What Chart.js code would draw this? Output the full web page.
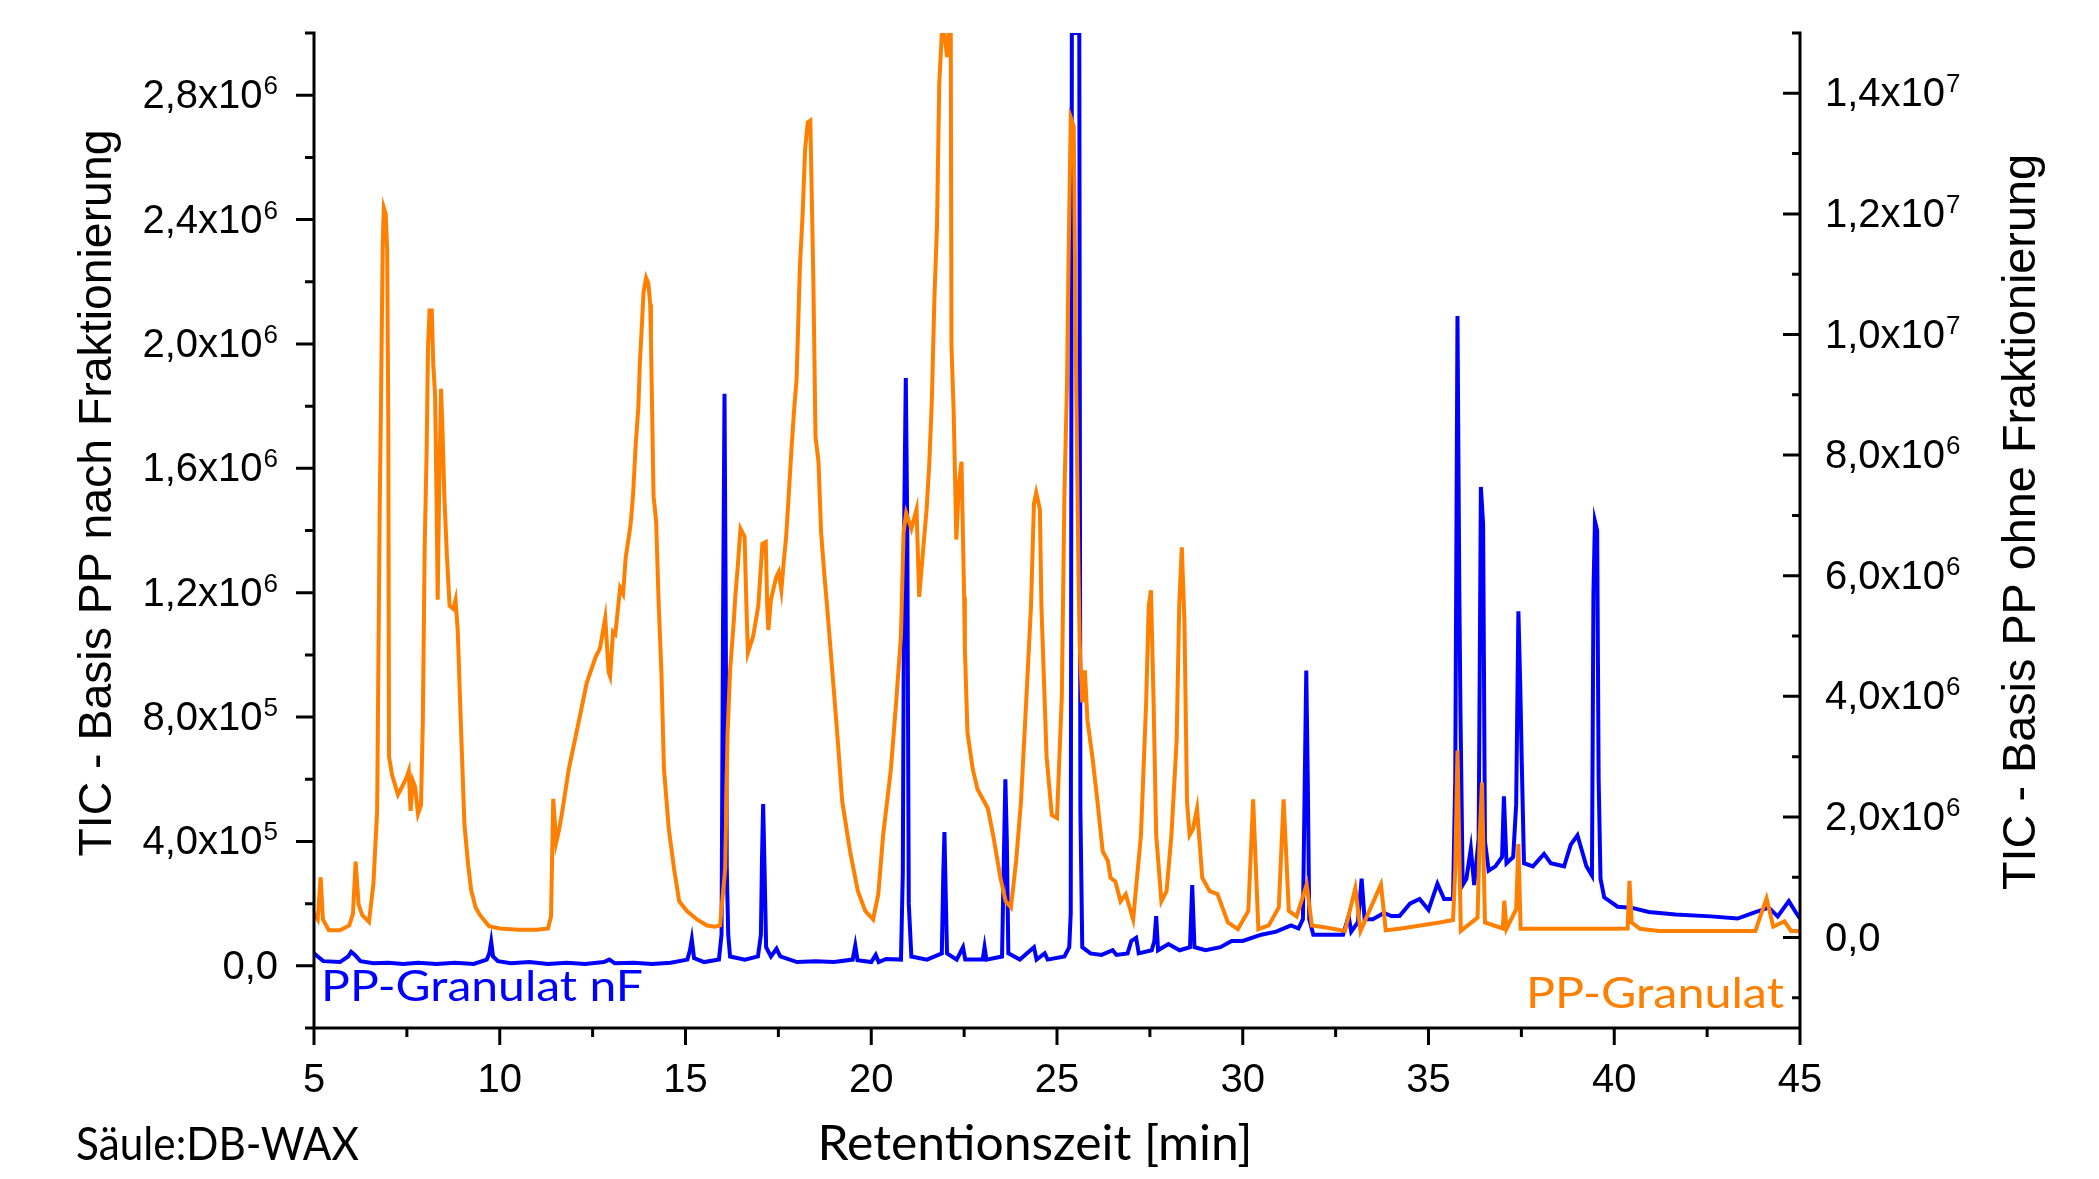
<!DOCTYPE html>
<html><head><meta charset="utf-8">
<script src="https://cdn.jsdelivr.net/npm/chart.js@4.4.0/dist/chart.umd.min.js"></script>
<style>html,body{margin:0;padding:0;background:#fff;overflow:hidden}canvas{display:block}</style>
</head><body>
<canvas id="c" width="2099" height="1179"></canvas>
<script>
// ---------------- DATA ----------------
// PP-Granulat (ohne Fraktionierung) – right axis: [Retentionszeit min, TIC]
const orangeTIC = [
[5.00,0.40e6],[5.10,0.30e6],[5.18,1.00e6],[5.24,0.30e6],[5.40,0.12e6],[5.70,0.12e6],[5.95,0.20e6],[6.05,0.40e6],
[6.12,1.26e6],[6.20,0.55e6],[6.30,0.37e6],[6.48,0.26e6],[6.60,0.90e6],[6.70,2.1e6],[6.77,7.2e6],[6.80,8.7e6],
[6.85,11.5e6],[6.88,12.1e6],[6.93,12.0e6],[6.97,11.4e6],[7.00,8.5e6],[7.02,3.0e6],[7.10,2.7e6],[7.26,2.37e6],
[7.37,2.5e6],[7.49,2.65e6],[7.55,2.76e6],[7.60,2.1e6],[7.66,2.6e6],[7.72,2.5e6],[7.80,2.05e6],[7.88,2.2e6],
[7.93,3.6e6],[7.98,6.5e6],[8.03,8.0e6],[8.07,9.8e6],[8.11,10.4e6],[8.17,10.4e6],[8.21,9.5e6],[8.26,9.0e6],
[8.30,7.2e6],[8.33,5.6e6],[8.37,7.5e6],[8.42,9.1e6],[8.46,8.4e6],[8.51,7.3e6],[8.58,6.3e6],[8.65,5.5e6],
[8.75,5.45e6],[8.81,5.6e6],[8.87,5.08e6],[8.95,3.6e6],[9.05,1.87e6],[9.15,1.2e6],[9.23,0.79e6],[9.35,0.5e6],
[9.47,0.37e6],[9.71,0.19e6],[10.0,0.15e6],[10.5,0.13e6],[11.0,0.13e6],[11.3,0.15e6],[11.38,0.35e6],[11.44,2.3e6],
[11.52,1.58e6],[11.60,1.8e6],[11.68,2.08e6],[11.86,2.8e6],[12.10,3.5e6],[12.34,4.22e6],[12.58,4.65e6],[12.70,4.8e6],
[12.84,5.3e6],[12.93,4.4e6],[12.97,4.33e6],[13.05,5.07e6],[13.11,5.03e6],[13.24,5.8e6],[13.32,5.7e6],[13.39,6.3e6],
[13.52,6.84e6],[13.59,7.35e6],[13.66,8.18e6],[13.73,8.78e6],[13.77,9.5e6],[13.83,10.2e6],[13.87,10.7e6],[13.94,10.94e6],
[14.00,10.85e6],[14.05,10.5e6],[14.07,9.92e6],[14.14,7.32e6],[14.21,6.9e6],[14.28,5.5e6],[14.35,4.43e6],[14.42,2.8e6],
[14.55,1.8e6],[14.69,1.15e6],[14.83,0.6e6],[15.04,0.44e6],[15.31,0.3e6],[15.58,0.2e6],[15.79,0.18e6],[15.93,0.2e6],
[16.07,1.15e6],[16.13,3.34e6],[16.20,4.43e6],[16.30,5.25e6],[16.34,5.65e6],[16.41,6.18e6],[16.48,6.78e6],[16.59,6.65e6],
[16.64,5.5e6],[16.68,4.72e6],[16.82,4.99e6],[16.96,5.5e6],[17.07,6.53e6],[17.16,6.56e6],[17.20,5.5e6],[17.23,5.1e6],
[17.30,5.6e6],[17.44,5.97e6],[17.51,6.06e6],[17.58,5.76e6],[17.65,6.27e6],[17.71,6.65e6],[17.78,7.35e6],[17.85,8.08e6],
[17.92,8.72e6],[17.99,9.26e6],[18.03,10.08e6],[18.08,11.13e6],[18.15,11.96e6],[18.22,13.07e6],[18.29,13.52e6],[18.36,13.55e6],
[18.44,10.97e6],[18.50,8.3e6],[18.58,7.89e6],[18.65,6.72e6],[18.74,6.0e6],[18.81,5.5e6],[18.95,4.43e6],[19.09,3.34e6],
[19.22,2.25e6],[19.43,1.43e6],[19.64,0.77e6],[19.84,0.44e6],[20.05,0.3e6],[20.19,0.72e6],[20.32,1.7e6],[20.53,2.8e6],
[20.67,3.9e6],[20.80,5.0e6],[20.87,6.72e6],[20.94,7.04e6],[21.08,6.78e6],[21.22,7.1e6],[21.29,5.65e6],[21.42,6.6e6],
[21.49,7.1e6],[21.56,7.83e6],[21.63,8.88e6],[21.70,10.6e6],[21.77,11.8e6],[21.83,14.15e6],[21.90,15.0e6],[21.97,15.0e6],
[22.04,14.6e6],[22.10,15.0e6],[22.14,15.0e6],[22.16,9.8e6],[22.22,8.69e6],[22.29,6.6e6],[22.36,7.54e6],[22.43,7.89e6],
[22.50,5.65e6],[22.52,4.8e6],[22.59,3.4e6],[22.73,2.8e6],[22.86,2.46e6],[23.14,2.14e6],[23.28,1.7e6],[23.48,0.98e6],
[23.62,0.6e6],[23.76,0.5e6],[23.90,1.27e6],[24.03,2.25e6],[24.17,3.9e6],[24.30,5.5e6],[24.38,7.2e6],[24.44,7.38e6],
[24.54,7.1e6],[24.58,5.5e6],[24.72,3.0e6],[24.86,2.03e6],[25.00,1.98e6],[25.13,4.0e6],[25.20,7.35e6],[25.27,9.2e6],
[25.31,11.2e6],[25.37,13.6e6],[25.45,13.45e6],[25.52,9.0e6],[25.58,6.0e6],[25.61,4.88e6],[25.68,3.9e6],[25.75,4.43e6],
[25.82,3.6e6],[25.96,2.96e6],[26.09,2.25e6],[26.23,1.43e6],[26.37,1.27e6],[26.44,0.99e6],[26.57,0.93e6],[26.71,0.6e6],
[26.85,0.72e6],[27.05,0.3e6],[27.26,1.7e6],[27.40,3.9e6],[27.47,5.5e6],[27.53,5.76e6],[27.60,3.9e6],[27.67,1.7e6],
[27.81,0.6e6],[27.95,0.77e6],[28.08,1.7e6],[28.22,3.26e6],[28.29,5.5e6],[28.36,6.47e6],[28.43,5.25e6],[28.50,2.25e6],
[28.57,1.7e6],[28.66,1.8e6],[28.77,2.14e6],[28.91,0.99e6],[29.11,0.77e6],[29.32,0.72e6],[29.60,0.25e6],[29.87,0.14e6],
[30.15,0.44e6],[30.28,2.29e6],[30.42,0.14e6],[30.70,0.2e6],[30.97,0.5e6],[31.10,2.29e6],[31.24,0.44e6],[31.45,0.35e6],
[31.72,0.88e6],[31.86,0.2e6],[32.20,0.17e6],[32.75,0.11e6],[33.03,0.82e6],[33.17,0.11e6],[33.72,0.88e6],[33.85,0.12e6],
[34.22,0.145e6],[35.30,0.25e6],[35.66,0.29e6],[35.72,1.12e6],[35.78,3.1e6],[35.87,0.11e6],[36.32,0.33e6],[36.38,1.7e6],
[36.44,2.57e6],[36.52,0.25e6],[37.00,0.15e6],[37.04,0.61e6],[37.10,0.145e6],[37.36,0.47e6],[37.42,1.55e6],[37.48,0.145e6],
[38.50,0.145e6],[40.00,0.145e6],[40.36,0.15e6],[40.41,0.94e6],[40.47,0.25e6],[40.69,0.145e6],[41.20,0.11e6],[43.80,0.11e6],
[43.92,0.33e6],[44.10,0.65e6],[44.28,0.18e6],[44.58,0.27e6],[44.76,0.11e6],[45.00,0.11e6]
];
// PP-Granulat nF (nach Fraktionierung) – left axis: [Retentionszeit min, TIC]
const blueTIC = [
[5.00,0.04e6],[5.10,0.03e6],[5.25,0.015e6],[5.70,0.012e6],[5.92,0.03e6],[6.00,0.045e6],[6.10,0.035e6],[6.25,0.015e6],
[6.60,0.008e6],[7.00,0.01e6],[7.40,0.006e6],[7.80,0.01e6],[8.30,0.006e6],[8.80,0.01e6],[9.30,0.006e6],[9.65,0.02e6],
[9.72,0.04e6],[9.77,0.077e6],[9.82,0.03e6],[9.95,0.015e6],[10.30,0.008e6],[10.80,0.012e6],[11.30,0.006e6],[11.80,0.01e6],
[12.30,0.006e6],[12.80,0.012e6],[12.95,0.02e6],[13.10,0.008e6],[13.60,0.01e6],[14.10,0.006e6],[14.60,0.01e6],[15.05,0.02e6],
[15.12,0.05e6],[15.17,0.085e6],[15.23,0.025e6],[15.50,0.012e6],[15.90,0.02e6],[15.97,0.1e6],[16.01,1.1e6],[16.05,1.84e6],
[16.08,1.2e6],[16.11,0.32e6],[16.15,0.1e6],[16.20,0.03e6],[16.60,0.02e6],[16.95,0.03e6],[17.03,0.1e6],[17.06,0.35e6],
[17.09,0.52e6],[17.13,0.3e6],[17.17,0.06e6],[17.30,0.03e6],[17.45,0.055e6],[17.55,0.03e6],[18.00,0.012e6],[18.50,0.015e6],
[19.00,0.012e6],[19.50,0.02e6],[19.57,0.065e6],[19.63,0.018e6],[20.00,0.012e6],[20.12,0.035e6],[20.20,0.012e6],[20.40,0.022e6],
[20.80,0.02e6],[20.85,0.3e6],[20.89,1.47e6],[20.93,1.89e6],[20.97,1.4e6],[21.01,0.2e6],[21.08,0.03e6],[21.50,0.02e6],
[21.90,0.04e6],[21.94,0.3e6],[21.97,0.43e6],[22.01,0.2e6],[22.04,0.04e6],[22.30,0.02e6],[22.47,0.06e6],[22.53,0.02e6],
[23.00,0.02e6],[23.05,0.06e6],[23.10,0.02e6],[23.52,0.03e6],[23.57,0.35e6],[23.61,0.6e6],[23.65,0.4e6],[23.69,0.04e6],
[24.00,0.02e6],[24.38,0.06e6],[24.45,0.02e6],[24.67,0.04e6],[24.75,0.02e6],[25.20,0.03e6],[25.33,0.06e6],[25.37,0.17e6],
[25.40,3.0e6],[25.60,3.0e6],[25.63,0.5e6],[25.68,0.06e6],[25.90,0.04e6],[26.20,0.035e6],[26.50,0.05e6],[26.60,0.035e6],
[26.90,0.04e6],[27.00,0.08e6],[27.13,0.09e6],[27.20,0.04e6],[27.55,0.05e6],[27.62,0.08e6],[27.67,0.16e6],[27.72,0.05e6],
[28.00,0.07e6],[28.30,0.05e6],[28.58,0.06e6],[28.64,0.26e6],[28.70,0.06e6],[29.00,0.05e6],[29.40,0.06e6],[29.70,0.08e6],
[30.00,0.08e6],[30.50,0.1e6],[30.90,0.11e6],[31.30,0.13e6],[31.50,0.12e6],[31.62,0.15e6],[31.67,0.6e6],[31.71,0.95e6],
[31.75,0.6e6],[31.79,0.15e6],[31.90,0.1e6],[32.30,0.1e6],[32.70,0.1e6],[32.85,0.16e6],[32.92,0.11e6],[33.10,0.14e6],
[33.20,0.28e6],[33.28,0.15e6],[33.50,0.15e6],[33.80,0.17e6],[34.00,0.16e6],[34.22,0.16e6],[34.50,0.2e6],[34.76,0.215e6],
[35.00,0.18e6],[35.24,0.264e6],[35.42,0.215e6],[35.66,0.215e6],[35.72,0.6e6],[35.78,2.09e6],[35.83,1.2e6],[35.86,0.82e6],
[35.92,0.26e6],[36.02,0.28e6],[36.14,0.377e6],[36.23,0.26e6],[36.35,0.41e6],[36.41,1.54e6],[36.47,1.42e6],[36.52,0.4e6],
[36.62,0.306e6],[36.80,0.32e6],[36.98,0.35e6],[37.03,0.545e6],[37.10,0.33e6],[37.28,0.35e6],[37.36,0.52e6],[37.42,1.14e6],
[37.47,0.9e6],[37.51,0.657e6],[37.57,0.33e6],[37.81,0.32e6],[38.11,0.36e6],[38.29,0.33e6],[38.65,0.32e6],[38.83,0.39e6],
[39.01,0.42e6],[39.25,0.32e6],[39.40,0.29e6],[39.44,1.2e6],[39.48,1.43e6],[39.54,1.4e6],[39.58,0.6e6],[39.63,0.28e6],
[39.73,0.22e6],[40.09,0.19e6],[40.45,0.187e6],[40.93,0.173e6],[41.65,0.165e6],[42.60,0.159e6],[43.32,0.152e6],[43.80,0.173e6],
[44.16,0.187e6],[44.40,0.159e6],[44.70,0.208e6],[44.88,0.173e6],[45.00,0.152e6]
];

const xTickValues = [5,10,15,20,25,30,35,40,45];
const xTickLabels = ["5","10","15","20","25","30","35","40","45"];
const xMinorTicks = [7.5,12.5,17.5,22.5,27.5,32.5,37.5,42.5];
const leftTickValues = [0,4e5,8e5,1.2e6,1.6e6,2.0e6,2.4e6,2.8e6];
const leftTickLabels = ["0,0","4,0x10^5","8,0x10^5","1,2x10^6","1,6x10^6","2,0x10^6","2,4x10^6","2,8x10^6"];
const leftMinorTicks = [-2e5,2e5,6e5,1.0e6,1.4e6,1.8e6,2.2e6,2.6e6,3.0e6];
const rightTickValues = [0,2e6,4e6,6e6,8e6,1.0e7,1.2e7,1.4e7];
const rightTickLabels = ["0,0","2,0x10^6","4,0x10^6","6,0x10^6","8,0x10^6","1,0x10^7","1,2x10^7","1,4x10^7"];
const rightMinorTicks = [-1e6,1e6,3e6,5e6,7e6,9e6,1.1e7,1.3e7,1.5e7];

const seriesNames = ["PP-Granulat","PP-Granulat nF"];
const xTitle = "Retentionszeit [min]";
const leftTitle = "TIC - Basis PP nach Fraktionierung";
const rightTitle = "TIC - Basis PP ohne Fraktionierung";
const noteText = "Säule:DB-WAX";

// ---------------- STYLE ----------------
const ORANGE = "#FF8000", BLUE = "#0000FF";
const TICK_FONT = 40, SUP_FONT = 26;
const ARIAL = '"Liberation Sans", Arial, sans-serif';
const CALIBRI = 'Lato, "Open Sans", sans-serif';

function drawFit(c, text, family, size, x, y, targetW, align, color, rot) {
  c.save();
  c.font = size + "px " + family;
  const w = c.measureText(text).width;
  const sx = targetW / w;
  c.translate(x, y);
  if (rot) c.rotate(rot);
  c.scale(sx, 1);
  c.fillStyle = color;
  c.textBaseline = "alphabetic";
  c.textAlign = align;
  c.fillText(text, 0, 0);
  c.restore();
}

function drawSci(c, label, x, y, align) {
  const parts = label.split("^");
  const main = parts[0], exp = parts[1] || "";
  c.font = TICK_FONT + "px " + ARIAL;
  const mw = c.measureText(main).width;
  c.font = SUP_FONT + "px " + ARIAL;
  const ew = exp ? c.measureText(exp).width : 0;
  const gap = exp ? 1 : 0;
  const total = mw + gap + ew;
  const x0 = align === "right" ? x - total : x;
  c.textAlign = "left"; c.textBaseline = "alphabetic"; c.fillStyle = "#000";
  c.font = TICK_FONT + "px " + ARIAL;
  c.fillText(main, x0, y + 13);
  if (exp) { c.font = SUP_FONT + "px " + ARIAL; c.fillText(exp, x0 + mw + gap, y - 1); }
}

const decor = {
  id: "decor",
  beforeDraw(chart) {
    const c = chart.ctx; c.save(); c.fillStyle = "#fff"; c.fillRect(0, 0, chart.width, chart.height); c.restore();
  },
  afterDatasetsDraw(chart) {
    const c = chart.ctx, a = chart.chartArea;
    const sx = chart.scales.x, sl = chart.scales.yL, sr = chart.scales.yR;
    c.save();
    c.strokeStyle = "#000"; c.lineWidth = 3; c.lineCap = "butt";
    c.beginPath();
    c.moveTo(a.left, a.top - 1.5); c.lineTo(a.left, a.bottom + 1.5);
    c.moveTo(a.right, a.top - 1.5); c.lineTo(a.right, a.bottom + 1.5);
    c.moveTo(a.left - 1.5, a.bottom); c.lineTo(a.right + 1.5, a.bottom);
    leftTickValues.forEach(v => { const y = sl.getPixelForValue(v); c.moveTo(a.left, y); c.lineTo(a.left - 18, y); });
    leftMinorTicks.forEach(v => { const y = sl.getPixelForValue(v); c.moveTo(a.left, y); c.lineTo(a.left - 9, y); });
    rightTickValues.forEach(v => { const y = sr.getPixelForValue(v); c.moveTo(a.right, y); c.lineTo(a.right - 17, y); });
    rightMinorTicks.forEach(v => { const y = sr.getPixelForValue(v); c.moveTo(a.right, y); c.lineTo(a.right - 8, y); });
    xTickValues.forEach(v => { const x = sx.getPixelForValue(v); c.moveTo(x, a.bottom); c.lineTo(x, a.bottom + 17); });
    xMinorTicks.forEach(v => { const x = sx.getPixelForValue(v); c.moveTo(x, a.bottom); c.lineTo(x, a.bottom + 9); });
    c.stroke();

    leftTickValues.forEach((v, i) => drawSci(c, leftTickLabels[i], 278, sl.getPixelForValue(v), "right"));
    rightTickValues.forEach((v, i) => drawSci(c, rightTickLabels[i], 1825, sr.getPixelForValue(v), "left"));
    c.font = TICK_FONT + "px " + ARIAL; c.fillStyle = "#000"; c.textAlign = "center"; c.textBaseline = "alphabetic";
    xTickValues.forEach((v, i) => c.fillText(xTickLabels[i], sx.getPixelForValue(v), 1092));

    drawFit(c, xTitle, CALIBRI, 48, 1035, 1160, 435, "center", "#000");
    drawFit(c, noteText, CALIBRI, 46, 76, 1160, 283, "left", "#000");
    drawFit(c, leftTitle, ARIAL, 46, 111, 493, 727, "center", "#000", -Math.PI / 2);
    drawFit(c, rightTitle, ARIAL, 46, 2035, 522, 736, "center", "#000", -Math.PI / 2);
    drawFit(c, seriesNames[1], CALIBRI, 43, 321, 1001, 322, "left", BLUE);
    drawFit(c, seriesNames[0], CALIBRI, 43, 1784, 1008, 258, "right", ORANGE);
    c.restore();
  }
};

new Chart(document.getElementById("c"), {
  type: "line",
  data: {
    datasets: [
      { label: seriesNames[0], data: orangeTIC.map(p => ({ x: p[0], y: p[1] })), yAxisID: "yR",
        borderColor: ORANGE, borderWidth: 4, pointRadius: 0, tension: 0, fill: false },
      { label: seriesNames[1], data: blueTIC.map(p => ({ x: p[0], y: p[1] })), yAxisID: "yL",
        borderColor: BLUE, borderWidth: 4, pointRadius: 0, tension: 0, fill: false }
    ]
  },
  options: {
    responsive: false, animation: false, devicePixelRatio: 1,
    layout: { padding: { left: 314, right: 299, top: 33, bottom: 151 } },
    scales: {
      x: { type: "linear", min: 5, max: 45, display: false },
      yL: { type: "linear", position: "left", min: -2e5, max: 3e6, display: false },
      yR: { type: "linear", position: "right", min: -1.5e6, max: 1.5e7, display: false }
    },
    plugins: { legend: { display: false }, tooltip: { enabled: false } },
    elements: { line: { borderJoinStyle: "miter", borderCapStyle: "butt" } }
  },
  plugins: [decor]
});
</script>
</body></html>
